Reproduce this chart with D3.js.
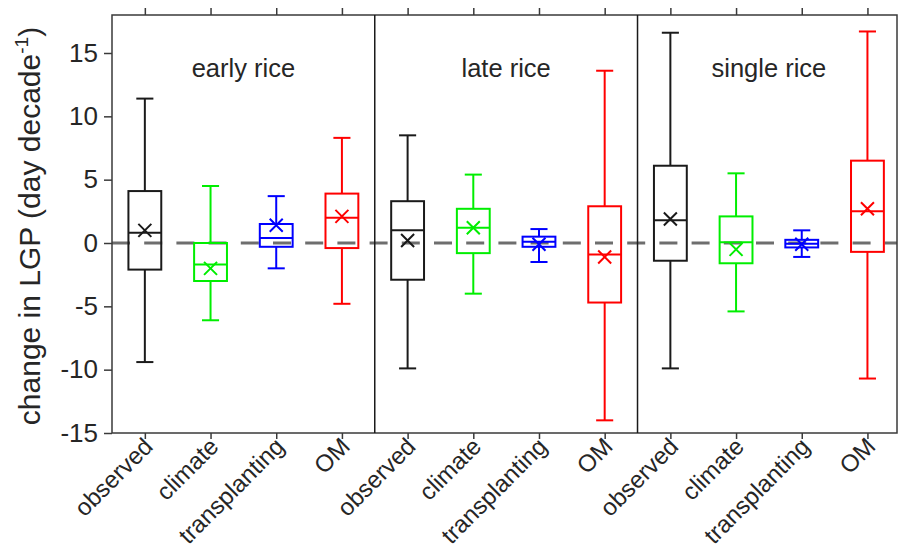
<!DOCTYPE html>
<html>
<head>
<meta charset="utf-8">
<script src="https://cdn.jsdelivr.net/npm/d3@7"></script>
<style>
  body { margin: 0; background: #fff; }
  text { font-family: Arial, "Liberation Sans", sans-serif; fill: #262626; }
</style>
</head>
<body>
<div id="chart"></div>
<script>
// panels and boxes
var groups = ["early rice", "late rice", "single rice"];
var treatments = ["observed", "climate", "transplanting", "OM"];
var boxColors = ["#1a1a1a", "#00ee00", "#0000ff", "#ff0000"];

// box statistics, 12 boxes (4 per panel)
var whiskerHigh = [11.4, 4.5, 3.7, 8.3,   8.5, 5.4, 1.1, 13.6,   16.6, 5.5, 1.0, 16.7];
var q3          = [4.1, 0.0, 1.5, 3.9,    3.3, 2.7, 0.5, 2.9,    6.1, 2.1, 0.25, 6.5];
var median      = [0.8, -1.7, 0.4, 2.0,   1.0, 1.2, 0.1, -0.9,   1.8, 0.05, -0.05, 2.5];
var q1          = [-2.1, -3.0, -0.3, -0.4, -2.9, -0.8, -0.3, -4.7, -1.4, -1.6, -0.35, -0.7];
var whiskerLow  = [-9.4, -6.1, -2.0, -4.8, -9.9, -4.0, -1.5, -14.0, -9.9, -5.4, -1.1, -10.7];
var means       = [1.0, -2.0, 1.4, 2.1,   0.2, 1.2, -0.1, -1.1,  1.9, -0.5, -0.1, 2.7];

var yTicks = [-15, -10, -5, 0, 5, 10, 15];

var W = 900, H = 552;
var margin = {left: 112, right: 897, top: 15, bottom: 433};

var svg = d3.select("#chart").append("svg")
  .attr("width", W)
  .attr("height", H);

var positions = d3.range(1, 13);

var x = d3.scaleLinear().domain([0.5, 12.45]).range([margin.left, margin.right]);
var y = d3.scaleLinear().domain([-15, 18]).range([margin.bottom, margin.top]);

// zero reference line
svg.append("line")
  .attr("x1", x(0.5)).attr("x2", x(12.45))
  .attr("y1", y(0)).attr("y2", y(0))
  .attr("stroke", "#6e6e6e")
  .attr("stroke-width", 3)
  .attr("stroke-dasharray", "18,14.2");

var data = positions.map(function (p, i) {
  return {
    pos: p,
    color: boxColors[i % 4],
    hi: whiskerHigh[i], q3: q3[i], med: median[i],
    q1: q1[i], lo: whiskerLow[i], mean: means[i]
  };
});

var boxW = 0.5, capW = 0.26, xs = 6.5;

var g = svg.selectAll(".box")
  .data(data)
  .enter().append("g")
  .attr("class", "box")
  .attr("stroke", function (d) { return d.color; })
  .attr("stroke-width", 2)
  .attr("fill", "none");

// whiskers
g.append("line")
  .attr("x1", function (d) { return x(d.pos); })
  .attr("x2", function (d) { return x(d.pos); })
  .attr("y1", function (d) { return y(d.hi); })
  .attr("y2", function (d) { return y(d.q3); });
g.append("line")
  .attr("x1", function (d) { return x(d.pos); })
  .attr("x2", function (d) { return x(d.pos); })
  .attr("y1", function (d) { return y(d.q1); })
  .attr("y2", function (d) { return y(d.lo); });
// caps
g.append("line")
  .attr("x1", function (d) { return x(d.pos - capW / 2); })
  .attr("x2", function (d) { return x(d.pos + capW / 2); })
  .attr("y1", function (d) { return y(d.hi); })
  .attr("y2", function (d) { return y(d.hi); });
g.append("line")
  .attr("x1", function (d) { return x(d.pos - capW / 2); })
  .attr("x2", function (d) { return x(d.pos + capW / 2); })
  .attr("y1", function (d) { return y(d.lo); })
  .attr("y2", function (d) { return y(d.lo); });
// box
g.append("rect")
  .attr("x", function (d) { return x(d.pos - boxW / 2); })
  .attr("width", function (d) { return x(d.pos + boxW / 2) - x(d.pos - boxW / 2); })
  .attr("y", function (d) { return y(d.q3); })
  .attr("height", function (d) { return y(d.q1) - y(d.q3); });
// median
g.append("line")
  .attr("x1", function (d) { return x(d.pos - boxW / 2); })
  .attr("x2", function (d) { return x(d.pos + boxW / 2); })
  .attr("y1", function (d) { return y(d.med); })
  .attr("y2", function (d) { return y(d.med); });
// mean marker
g.append("path")
  .attr("d", function (d) {
    var cx = x(d.pos), cy = y(d.mean);
    return "M" + (cx - xs) + "," + (cy - xs) + "L" + (cx + xs) + "," + (cy + xs) +
           "M" + (cx - xs) + "," + (cy + xs) + "L" + (cx + xs) + "," + (cy - xs);
  });

// frame and panel dividers
svg.append("rect")
  .attr("x", margin.left).attr("y", margin.top)
  .attr("width", margin.right - margin.left).attr("height", margin.bottom - margin.top)
  .attr("fill", "none").attr("stroke", "#3a3a3a").attr("stroke-width", 1.5);

[4.5, 8.5].forEach(function (v) {
  svg.append("line")
    .attr("x1", x(v)).attr("x2", x(v))
    .attr("y1", margin.top).attr("y2", margin.bottom)
    .attr("stroke", "#1a1a1a").attr("stroke-width", 1.5);
});

// axes
var yAxis = svg.append("g")
  .attr("transform", "translate(" + margin.left + ",0)")
  .call(d3.axisLeft(y).tickValues(yTicks).tickSize(8).tickPadding(6)
    .tickFormat(function (d) { return String(d); }));
yAxis.select(".domain").remove();
yAxis.selectAll("line").attr("stroke", "#3a3a3a").attr("stroke-width", 1.5);
yAxis.selectAll("text").style("font-size", "26px").attr("fill", "#333");

var topAxis = svg.append("g")
  .attr("transform", "translate(0," + margin.top + ")")
  .call(d3.axisTop(x).tickValues(positions).tickSize(7).tickFormat(""));
topAxis.select(".domain").remove();
topAxis.selectAll("line").attr("stroke", "#3a3a3a").attr("stroke-width", 1.5);

var xAxis = svg.append("g")
  .attr("transform", "translate(0," + margin.bottom + ")")
  .call(d3.axisBottom(x).tickValues(positions).tickSize(6)
    .tickFormat(function (d, i) { return treatments[i % 4]; }));
xAxis.select(".domain").remove();
xAxis.selectAll("line").attr("stroke", "#3a3a3a").attr("stroke-width", 1.5);
xAxis.selectAll("text")
  .style("font-size", "24px")
  .attr("fill", "#262626")
  .attr("text-anchor", "end")
  .attr("x", 0).attr("y", 0).attr("dy", "0.35em")
  .attr("transform", "translate(3,9) rotate(-45)");

// panel titles
groups.forEach(function (name, i) {
  svg.append("text")
    .attr("x", (x(0.5 + 4 * i) + x(4.5 + 4 * i)) / 2)
    .attr("y", 77)
    .attr("text-anchor", "middle")
    .style("font-size", "25.5px")
    .text(name);
});

// y label
var yl = svg.append("text")
  .attr("transform", "rotate(-90)")
  .attr("x", -226)
  .attr("y", 40)
  .attr("text-anchor", "middle")
  .style("font-size", "30px");
yl.append("tspan").text("change in LGP (day decade");
yl.append("tspan").attr("dy", -12).style("font-size", "19px").text("-1");
yl.append("tspan").attr("dy", 12).text(")");
</script>
</body>
</html>
